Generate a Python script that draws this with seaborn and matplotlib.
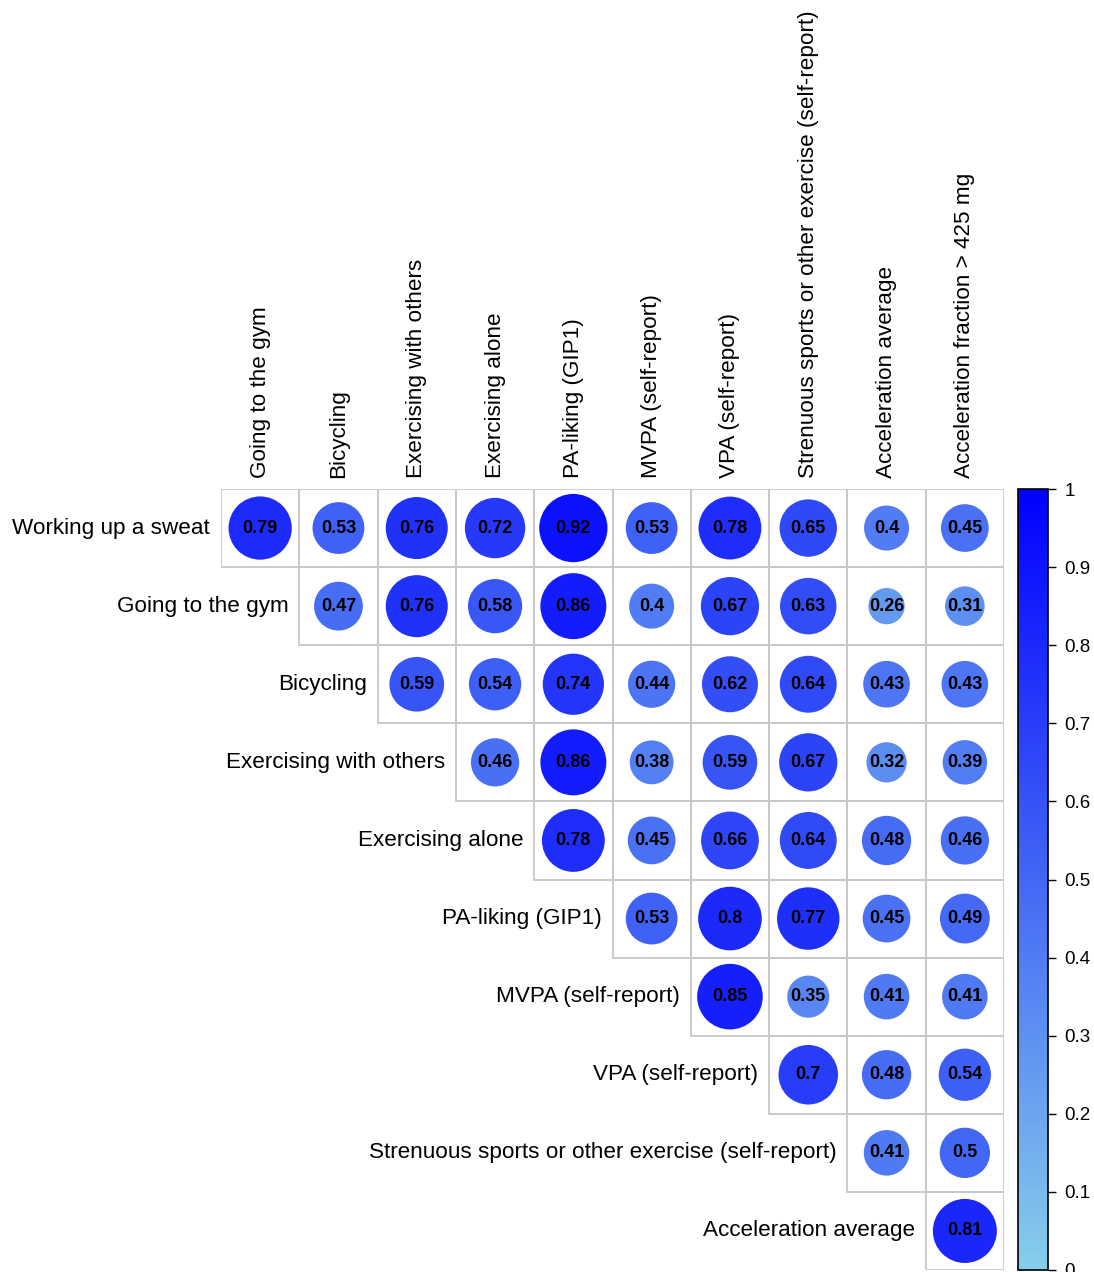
import numpy as np
import pandas as pd
import matplotlib
matplotlib.use("Agg")
import matplotlib.pyplot as plt
import seaborn as sns
from matplotlib.colors import LinearSegmentedColormap, Normalize
from matplotlib.patches import Rectangle
from matplotlib.cm import ScalarMappable

row_labels = ["Working up a sweat", "Going to the gym", "Bicycling",
              "Exercising with others", "Exercising alone", "PA-liking (GIP1)",
              "MVPA (self-report)", "VPA (self-report)",
              "Strenuous sports or other exercise (self-report)",
              "Acceleration average"]
col_labels = ["Going to the gym", "Bicycling", "Exercising with others",
              "Exercising alone", "PA-liking (GIP1)", "MVPA (self-report)",
              "VPA (self-report)",
              "Strenuous sports or other exercise (self-report)",
              "Acceleration average", "Acceleration fraction > 425 mg"]

# upper triangle, row i starts at column i
corr_rows = [
    [0.79, 0.53, 0.76, 0.72, 0.92, 0.53, 0.78, 0.65, 0.40, 0.45],
    [0.47, 0.76, 0.58, 0.86, 0.40, 0.67, 0.63, 0.26, 0.31],
    [0.59, 0.54, 0.74, 0.44, 0.62, 0.64, 0.43, 0.43],
    [0.46, 0.86, 0.38, 0.59, 0.67, 0.32, 0.39],
    [0.78, 0.45, 0.66, 0.64, 0.48, 0.46],
    [0.53, 0.80, 0.77, 0.45, 0.49],
    [0.85, 0.35, 0.41, 0.41],
    [0.70, 0.48, 0.54],
    [0.41, 0.50],
    [0.81],
]
cbar_ticks = [0, 0.1, 0.2, 0.3, 0.4, 0.5, 0.6, 0.7, 0.8, 0.9, 1]

recs = []
for i, vals in enumerate(corr_rows):
    for k, v in enumerate(vals):
        recs.append({"row": i, "col": i + k, "r": v})
df = pd.DataFrame(recs)

cmap = LinearSegmentedColormap.from_list("sky_blue", ["#87CEEB", "#0000FF"])
FONT = ["Liberation Sans", "DejaVu Sans"]

sns.set_style("white")
plt.rcParams["font.family"] = FONT
plt.rcParams["text.color"] = "black"

W, H = 1094, 1272
fig = plt.figure(figsize=(W / 100, H / 100), dpi=100)
ax = fig.add_axes([221 / W, 2 / H, 783 / W, 781 / H])

# cell borders
for _, rec in df.iterrows():
    ax.add_patch(Rectangle((rec["col"] - 0.5, rec["row"] - 0.5), 1, 1,
                           facecolor="none", edgecolor="#C8C8C8", lw=1.3, zorder=1))

cell_pt = 78.2 * 0.72
smax = (0.91 * cell_pt) ** 2
sns.scatterplot(data=df, x="col", y="row", hue="r", size="r", palette=cmap,
                hue_norm=(0, 1), sizes=(0, smax), size_norm=(0, 1),
                linewidth=0, legend=False, ax=ax, zorder=2)

for _, rec in df.iterrows():
    ax.text(rec["col"], rec["row"], f"{rec['r']:g}", ha="center", va="center",
            fontsize=13, fontweight="bold", color="black", zorder=3)

ax.set_xlim(-0.5, 9.5)
ax.set_ylim(9.5, -0.5)
ax.set_axis_off()

for i, lab in enumerate(row_labels):
    ax.text(i - 0.64, i, lab, ha="right", va="center", fontsize=16.2, color="black")
for j, lab in enumerate(col_labels):
    ax.text(j, -0.64, lab, ha="center", va="bottom", rotation=90, fontsize=16.2,
            color="black")

cax = fig.add_axes([1018 / W, 2 / H, 30 / W, 781 / H])
cb = fig.colorbar(ScalarMappable(norm=Normalize(0, 1), cmap=cmap), cax=cax)
cb.set_ticks(cbar_ticks)
cb.set_ticklabels([f"{t:g}" for t in cbar_ticks])
cb.outline.set_linewidth(1.2)
cb.outline.set_edgecolor("black")
cax.tick_params(labelsize=13.5, length=6, width=1, direction="out", pad=6,
                colors="black")

fig.savefig("out.png", dpi=100)
